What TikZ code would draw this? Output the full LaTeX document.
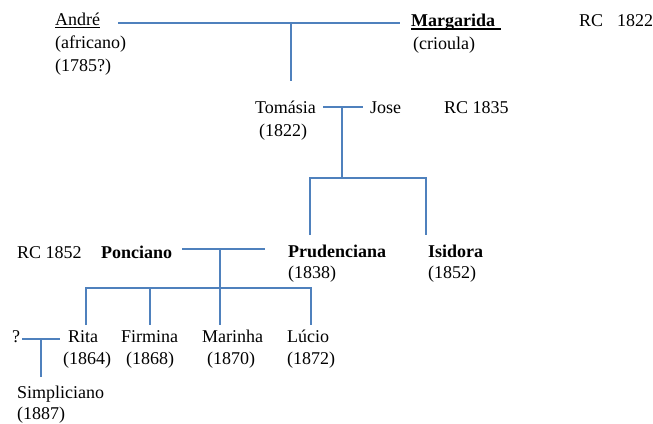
\documentclass[tikz,border=0pt]{standalone}
\usepackage{fontspec}
\setmainfont{Liberation Serif}
\definecolor{linkblue}{RGB}{79,129,189}
\begin{document}
\begin{tikzpicture}[x=1pt,y=-1pt,
  txt/.style={anchor=base west,inner sep=0pt,font=\fontsize{18}{22}\selectfont},
  bld/.style={txt,font=\fontsize{18}{22}\selectfont\bfseries},
  link/.style={draw=linkblue,line width=1.3pt},
  uline/.style={draw=black,line width=0.9pt}]
\useasboundingbox (0,0) rectangle (653,423);
% people
\node[txt] (andre) at (55,25) {André};
\node[txt] (andreb) at (55,48) {(africano)};
\node[txt] (andrec) at (55,71) {(1785?)};
\node[bld] (marg) at (411,26) {Margarida};
\node[txt] (margb) at (413,49) {(crioula)};
\node[txt] (rca) at (579,26) {RC\hspace{14pt}1822};
\node[txt] (tom) at (255,113) {Tomásia};
\node[txt] (tomb) at (259,136) {(1822)};
\node[txt] (jose) at (370,113) {Jose};
\node[txt] (rcb) at (444,113) {RC 1835};
\node[bld] (prud) at (288,257) {Prudenciana};
\node[txt] (prudb) at (288,278) {(1838)};
\node[bld] (isi) at (428,257) {Isidora};
\node[txt] (isib) at (428,278) {(1852)};
\node[txt] (rcc) at (17,258) {RC 1852};
\node[bld] (ponc) at (101,258) {Ponciano};
\node[txt] (rita) at (68,342) {Rita};
\node[txt] (ritab) at (63,364) {(1864)};
\node[txt] (firm) at (121,342) {Firmina};
\node[txt] (firmb) at (126,364) {(1868)};
\node[txt] (mar) at (202,342) {Marinha};
\node[txt] (marb) at (207,364) {(1870)};
\node[txt] (luc) at (287,342) {Lúcio};
\node[txt] (lucb) at (287,364) {(1872)};
\node[txt] (q) at (12,342) {?};
\node[txt] (simp) at (17,398) {Simpliciano};
\node[txt] (simpb) at (17,419) {(1887)};
% underlines
\draw[uline] ([yshift=-2pt]andre.base west) -- ([yshift=-2pt]andre.base east);
\draw[uline,line width=1.4pt] ([yshift=-3pt]marg.base west) -- ([xshift=6pt,yshift=-3pt]marg.base east);
% junction coordinates
\coordinate (m1l) at (118,23); \coordinate (m1r) at (400,23);
\coordinate (m1c) at (291,23); \coordinate (m1d) at (291,81);
\coordinate (m2l) at (323,107); \coordinate (m2r) at (363,107);
\coordinate (m2c) at (342,107); \coordinate (m2d) at (342,178);
\coordinate (s2l) at (310,178); \coordinate (s2r) at (426,178);
\coordinate (c2a) at (310,235); \coordinate (c2b) at (426,235);
\coordinate (m3l) at (182,249); \coordinate (m3r) at (265,249);
\coordinate (m3c) at (220,249);
\coordinate (s3l) at (86,288); \coordinate (s3b) at (150,288);
\coordinate (s3c) at (220,288); \coordinate (s3r) at (311,288);
\coordinate (c3a) at (86,325); \coordinate (c3b) at (150,325);
\coordinate (c3c) at (220,325); \coordinate (c3d) at (311,325);
\coordinate (m4l) at (22,339); \coordinate (m4r) at (60,339);
\coordinate (m4c) at (41,339); \coordinate (m4d) at (41,377);
% connectors
\draw[link] (m1l) -- (m1r);
\draw[link] (m1c) -- (m1d);
\draw[link] (m2l) -- (m2r);
\draw[link] (m2c) -- (m2d);
\draw[link] (c2a) -- (s2l) -- (s2r) -- (c2b);
\draw[link] (m3l) -- (m3r);
\draw[link] (m3c) -- (c3c);
\draw[link] (c3a) -- (s3l) -- (s3r) -- (c3d);
\draw[link] (s3b) -- (c3b);
\draw[link] (m4l) -- (m4r);
\draw[link] (m4c) -- (m4d);
\end{tikzpicture}
\end{document}
